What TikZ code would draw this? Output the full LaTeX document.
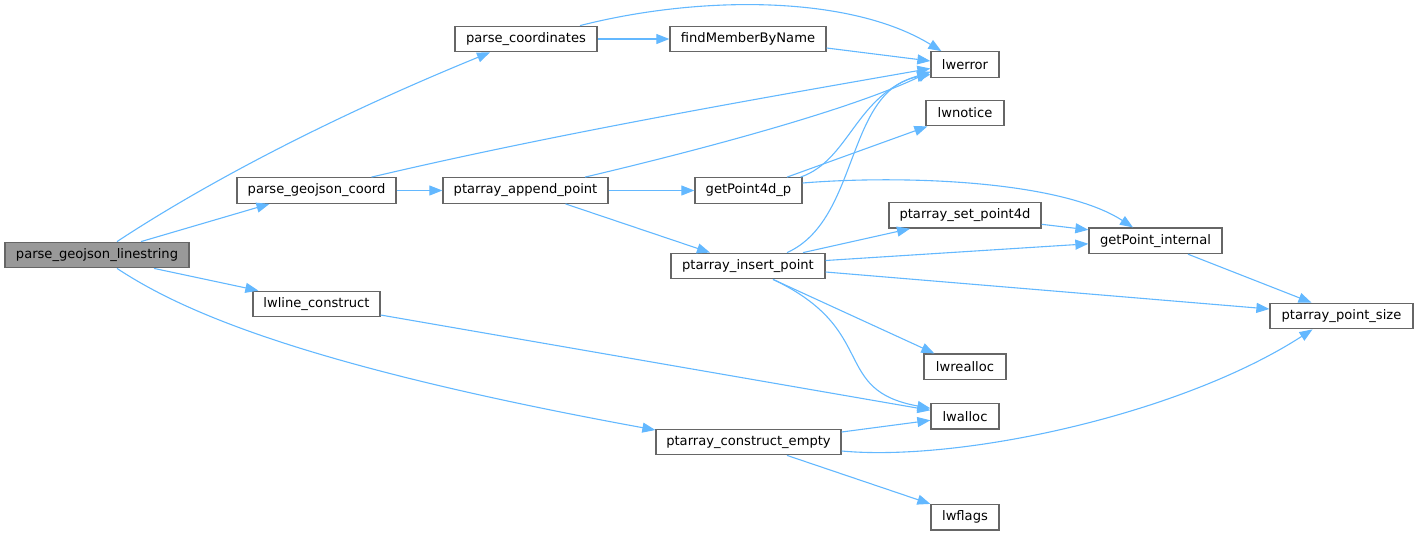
\documentclass[tikz,border=0pt]{standalone}
\usepackage{fontspec}
\setmainfont{DejaVu Sans}
\usetikzlibrary{arrows.meta}
\definecolor{edgec}{HTML}{63B8FF}
\definecolor{boxb}{HTML}{666666}
\definecolor{boxf}{HTML}{999999}
\begin{document}
\begin{tikzpicture}[x=1pt,y=-1pt,
  box/.style={draw=boxb, line width=1.3pt, fill=white, rectangle, inner sep=0pt,
    minimum height=25.5pt, font=\fontsize{13.1}{15}\selectfont, text=black},
  call/.style={draw=edgec, line width=1.1pt, -{Triangle[length=13pt,width=10pt]}},
]
\useasboundingbox (0,0) rectangle (1419,536);

% nodes
\node[box, fill=boxf, minimum width=184pt] (lin) at (97,255) {parse\_geojson\_linestring};
\node[box, minimum width=142pt] (pc) at (526,39) {parse\_coordinates};
\node[box, minimum width=156pt] (fm) at (748,39) {findMemberByName};
\node[box, minimum width=68pt] (err) at (965,64.5) {lwerror};
\node[box, minimum width=78pt] (notice) at (965,113) {lwnotice};
\node[box, minimum width=159pt] (pgc) at (316.5,190.5) {parse\_geojson\_coord};
\node[box, minimum width=165pt] (app) at (525.5,190.5) {ptarray\_append\_point};
\node[box, minimum width=107pt] (g4) at (748.5,190.5) {getPoint4d\_p};
\node[box, minimum width=152pt] (set4) at (965,215.3) {ptarray\_set\_point4d};
\node[box, minimum width=133pt] (gi) at (1155.5,240.8) {getPoint\_internal};
\node[box, minimum width=154pt] (ins) at (748,266) {ptarray\_insert\_point};
\node[box, minimum width=143pt] (ps) at (1341.5,316) {ptarray\_point\_size};
\node[box, minimum width=127pt] (lc) at (316.5,304) {lwline\_construct};
\node[box, minimum width=82pt] (realloc) at (965,366.8) {lwrealloc};
\node[box, minimum width=68pt] (alloc) at (965,416.3) {lwalloc};
\node[box, minimum width=185pt] (ce) at (748.5,442) {ptarray\_construct\_empty};
\node[box, minimum width=68pt] (flags) at (965,517.3) {lwflags};

% edges from parse_geojson_linestring
\draw[call] ([xshift=20pt]lin.north) .. controls (180,200) and (300,130) .. ([xshift=-36pt]pc.south);
\draw[call] ([xshift=44pt]lin.north) -- ([xshift=-47pt]pgc.south);
\draw[call] ([xshift=57pt]lin.south) -- ([xshift=6pt]lc.north west);
\draw[call] ([xshift=20pt]lin.south) .. controls (180,310) and (300,365) .. ([yshift=12pt]ce.west);

% parse_coordinates
\draw[call] (pc.east) -- (fm.west);
\draw[call] ([xshift=54pt]pc.north) .. controls (700,-5) and (850,-5) .. ([xshift=11pt]err.north west);
\draw[call] ([yshift=-9pt]fm.east) -- ([yshift=3.5pt]err.west);

% parse_geojson_coord
\draw[call] ([xshift=55pt]pgc.north) .. controls (550,135) and (750,100) .. ([yshift=-4pt]err.west);
\draw[call] (pgc.east) -- (app.west);

% ptarray_append_point
\draw[call] ([xshift=59.5pt]app.north) .. controls (700,150) and (850,110) .. ([yshift=-7pt]err.west);
\draw[call] (app.east) -- (g4.west);
\draw[call] ([xshift=40pt]app.south) -- ([xshift=-38pt]ins.north);

% getPoint4d_p
\draw[call] ([xshift=52pt]g4.north) .. controls (850,160) and (855,95) .. ([yshift=-7.5pt]err.west);
\draw[call] ([xshift=38.5pt]g4.north) -- ([xshift=2pt]notice.south west);
\draw[call] ([yshift=7.5pt]g4.east) .. controls (900,175) and (1060,180) .. ([xshift=-22.5pt]gi.north);

% ptarray_insert_point
\draw[call] ([xshift=39pt]ins.north) .. controls (860,220) and (845,90) .. ([yshift=-10pt]err.west);
\draw[call] ([xshift=55pt]ins.north) -- ([xshift=-55pt]set4.south);
\draw[call] ([yshift=5.5pt]ins.east) -- ([yshift=-3pt]gi.west);
\draw[call] ([yshift=-6pt]ins.east) -- ([yshift=7pt]ps.west);
\draw[call] ([xshift=25pt]ins.south) -- ([xshift=11pt]realloc.north west);
\draw[call] ([xshift=25pt]ins.south) .. controls (880,330) and (830,390) .. ([yshift=8pt]alloc.west);

% others
\draw[call] ([yshift=-9pt]set4.east) -- ([yshift=11pt]gi.west);
\draw[call] ([xshift=32.5pt]gi.south) -- ([xshift=-30pt]ps.north);
\draw[call] ([yshift=-11pt]lc.east) -- ([yshift=6pt]alloc.west);
\draw[call] ([yshift=10pt]ce.east) -- ([yshift=-4pt]alloc.west);
\draw[call] ([yshift=-9pt]ce.east) .. controls (960,462) and (1180,415) .. ([xshift=-29pt]ps.south);
\draw[call] ([xshift=38.5pt]ce.south) -- (flags.north west);
\end{tikzpicture}
\end{document}
